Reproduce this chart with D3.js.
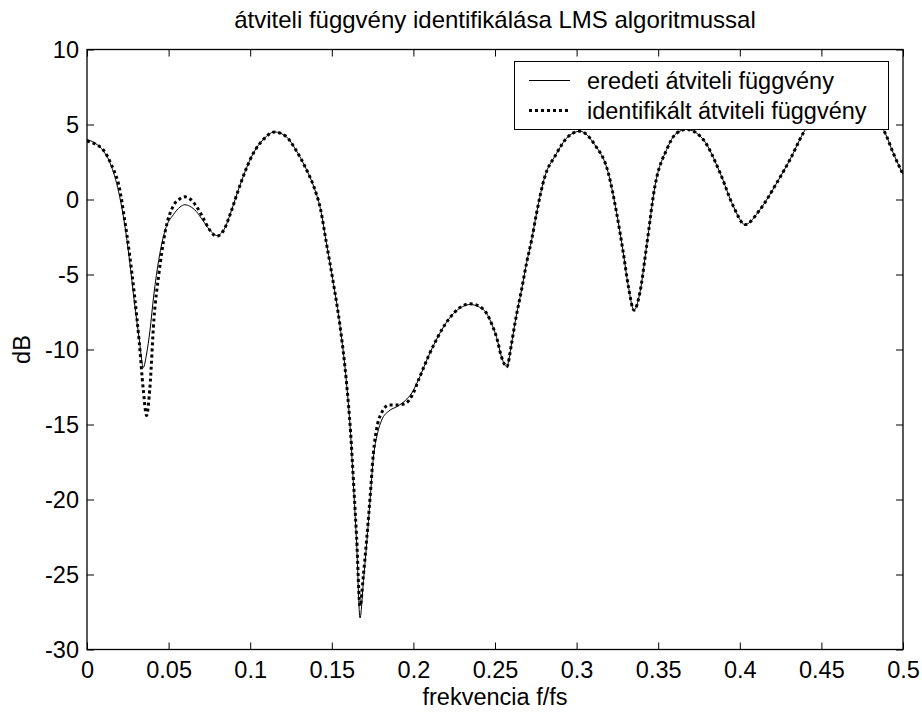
<!DOCTYPE html>
<html>
<head>
<meta charset="utf-8">
<script src="https://cdn.jsdelivr.net/npm/d3@7"></script>
<style>
  body { margin: 0; background: #fff; }
  svg text { font-family: "Liberation Sans", Arial, sans-serif; fill: #000; }
</style>
</head>
<body>
<svg id="chart" width="922" height="714"></svg>
<script>
// ---- data ----
const freq = [0.000,0.005,0.010,0.015,0.020,0.023,0.026,0.029,0.032,0.0345,0.0365,0.0385,0.041,0.044,0.048,0.053,0.057,0.060,0.063,0.067,0.071,0.075,0.0795,0.084,0.088,0.092,0.097,0.102,0.108,0.115,0.122,0.128,0.134,0.139,0.143,0.147,0.151,0.155,0.159,0.1615,0.1635,0.1652,0.1673,0.1694,0.1714,0.1735,0.1754,0.178,0.1806,0.185,0.190,0.195,0.199,0.204,0.209,0.2143,0.219,0.2245,0.230,0.2347,0.240,0.2449,0.248,0.251,0.254,0.2572,0.260,0.2623,0.2663,0.2694,0.2725,0.2755,0.2806,0.2868,0.2949,0.302,0.311,0.3194,0.3245,0.3286,0.3317,0.3352,0.3388,0.3429,0.348,0.3552,0.361,0.3674,0.3776,0.3879,0.396,0.4032,0.4124,0.4226,0.4308,0.4389,0.446,0.455,0.464,0.473,0.482,0.489,0.494,0.500];
const original = [4.0,3.75,3.25,2.2,0.2,-1.6,-4.0,-6.8,-9.3,-11.2,-10.3,-8.8,-6.3,-4.0,-2.0,-1.0,-0.5,-0.35,-0.45,-0.8,-1.4,-2.0,-2.4,-2.0,-0.9,0.4,1.9,3.1,4.0,4.5,4.2,3.3,2.1,0.85,-0.6,-3.1,-5.6,-8.4,-12.2,-15.6,-19.5,-22.9,-27.9,-25.4,-22.9,-20.0,-17.3,-15.6,-14.7,-14.1,-13.8,-13.4,-12.9,-11.8,-10.5,-9.3,-8.4,-7.6,-7.15,-7.0,-7.15,-7.6,-8.3,-9.2,-10.5,-11.15,-9.7,-8.2,-6.0,-4.2,-2.67,-0.89,1.55,2.9,4.2,4.55,3.67,1.78,-0.89,-3.55,-5.78,-7.38,-6.2,-3.1,0.89,3.33,4.4,4.67,4.0,1.78,-0.44,-1.67,-0.67,1.1,2.67,4.44,5.6,6.3,6.5,6.2,5.4,4.44,3.1,1.67];
const identified = [3.9,3.7,3.3,2.3,0.7,-1.3,-3.6,-6.3,-9.5,-12.7,-14.4,-12.6,-8.0,-5.0,-2.1,-0.4,0.05,0.18,0.05,-0.45,-1.2,-2.0,-2.45,-2.0,-0.9,0.4,1.9,3.1,4.0,4.5,4.2,3.3,2.1,0.85,-0.6,-3.1,-5.6,-8.4,-12.2,-15.5,-19.2,-22.5,-27.1,-25.0,-22.6,-19.8,-17.0,-15.0,-14.2,-13.7,-13.7,-13.6,-13.1,-11.8,-10.5,-9.3,-8.4,-7.6,-7.1,-6.95,-7.1,-7.6,-8.3,-9.2,-10.5,-11.15,-9.7,-8.2,-6.0,-4.2,-2.67,-0.89,1.55,2.9,4.2,4.55,3.67,1.78,-0.89,-3.55,-5.78,-7.38,-6.2,-3.1,0.89,3.33,4.4,4.67,4.0,1.78,-0.44,-1.67,-0.67,1.1,2.67,4.44,5.6,6.3,6.5,6.2,5.4,4.44,3.1,1.67];
const xTicks = [0,0.05,0.1,0.15,0.2,0.25,0.3,0.35,0.4,0.45,0.5];
const yTicks = [-30,-25,-20,-15,-10,-5,0,5,10];
const seriesNames = ["eredeti átviteli függvény","identifikált átviteli függvény"];
const titleText = "átviteli függvény identifikálása LMS algoritmussal";
const xLabel = "frekvencia f/fs";
const yLabel = "dB";

// ---- layout ----
const svg = d3.select("#chart");
const L = 87, R = 903, T = 49.5, B = 649.5;
const FS = 23.5;
const x = d3.scaleLinear().domain([0,0.5]).range([L,R]);
const y = d3.scaleLinear().domain([-30,10]).range([B,T]);
const fmt = d => String(+d.toFixed(2));

svg.append("defs").append("clipPath").attr("id","clip")
  .append("rect").attr("x",L).attr("y",T).attr("width",R-L).attr("height",B-T);

// axes with inward ticks, box style
const tickLen = 7;
const gx = svg.append("g").attr("transform",`translate(0,${B})`)
  .call(d3.axisBottom(x).tickValues(xTicks).tickFormat(fmt).tickSizeInner(-tickLen).tickSizeOuter(0).tickPadding(12));
const gxt = svg.append("g").attr("transform",`translate(0,${T})`)
  .call(d3.axisTop(x).tickValues(xTicks).tickFormat("").tickSizeInner(-tickLen).tickSizeOuter(0));
const gy = svg.append("g").attr("transform",`translate(${L},0)`)
  .call(d3.axisLeft(y).tickValues(yTicks).tickFormat(d=>String(d)).tickSizeInner(-tickLen).tickSizeOuter(0).tickPadding(8));
const gyr = svg.append("g").attr("transform",`translate(${R},0)`)
  .call(d3.axisRight(y).tickValues(yTicks).tickFormat("").tickSizeInner(-tickLen).tickSizeOuter(0));
[gx,gxt,gy,gyr].forEach(g=>{
  g.select(".domain").remove();
  g.selectAll("line").attr("stroke","#000").attr("stroke-width",1);
  g.selectAll("text").attr("font-size",FS).attr("fill","#000")
    .style("font-family","'Liberation Sans', Arial, sans-serif");
});
gx.selectAll("text").attr("dy","0.71em");
gy.selectAll("text").attr("dy","0.36em");

// data lines
const pts1 = freq.map((f,i)=>[f,original[i]]);
const pts2 = freq.map((f,i)=>[f,identified[i]]);
const line = d3.line().x(d=>x(d[0])).y(d=>y(d[1])).curve(d3.curveMonotoneX);
const plot = svg.append("g").attr("clip-path","url(#clip)");
plot.append("path").attr("d",line(pts1)).attr("fill","none").attr("stroke","#000").attr("stroke-width",1);
plot.append("path").attr("d",line(pts2)).attr("fill","none").attr("stroke","#000")
  .attr("stroke-width",3).attr("stroke-dasharray","3,3");

// box
svg.append("rect").attr("x",L).attr("y",T).attr("width",R-L).attr("height",B-T)
  .attr("fill","none").attr("stroke","#000").attr("stroke-width",1.3);

// legend
const lg = svg.append("g");
lg.append("rect").attr("x",514.5).attr("y",61.5).attr("width",374).attr("height",68)
  .attr("fill","#fff").attr("stroke","#000").attr("stroke-width",1);
const rows = [80.5, 110.5];
lg.append("line").attr("x1",529).attr("x2",570).attr("y1",rows[0]).attr("y2",rows[0])
  .attr("stroke","#000").attr("stroke-width",1);
lg.append("line").attr("x1",529).attr("x2",570).attr("y1",rows[1]).attr("y2",rows[1])
  .attr("stroke","#000").attr("stroke-width",3).attr("stroke-dasharray","3,3");
seriesNames.forEach((s,i)=>{
  lg.append("text").attr("x",587).attr("y",rows[i]).attr("dy","0.35em")
    .attr("font-size",FS).text(s);
});

// title and labels
svg.append("text").attr("x",(L+R)/2).attr("y",28).attr("text-anchor","middle")
  .attr("font-size",24).text(titleText);
svg.append("text").attr("x",(L+R)/2).attr("y",705).attr("text-anchor","middle")
  .attr("font-size",FS).text(xLabel);
svg.append("text").attr("transform",`translate(30,${(T+B)/2}) rotate(-90)`)
  .attr("text-anchor","middle").attr("font-size",FS).text(yLabel);
</script>
</body>
</html>
